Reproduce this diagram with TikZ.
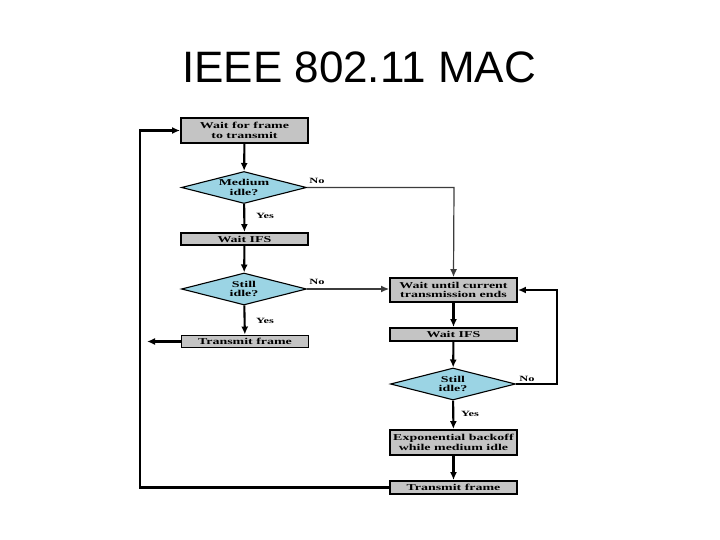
\documentclass[tikz,border=0pt]{standalone}
\usepackage{fontspec}
\setmainfont{Liberation Serif}
\newfontfamily\titlefont{Liberation Sans}
\newfontfamily\boxfont{Liberation Serif}[FakeStretch=1.55]
\usetikzlibrary{shapes.geometric,arrows.meta}
\definecolor{boxgray}{RGB}{196,196,196}
\definecolor{decblue}{RGB}{155,212,228}
\definecolor{thinline}{RGB}{60,60,60}
\begin{document}
\begin{tikzpicture}[x=1pt,y=-1pt,
  box/.style={draw=black,line width=1.9pt,fill=boxgray,minimum width=127pt,inner sep=0pt,
    font=\boxfont\bfseries\fontsize{9}{9.5}\selectfont,align=center},
  dec/.style={diamond,draw=black,line width=1.1pt,fill=decblue,minimum width=125pt,minimum height=32pt,
    inner sep=0pt,aspect=3.9,font=\boxfont\bfseries\fontsize{9}{9.5}\selectfont,align=center},
  flow/.style={line width=2.1pt,-{Latex[length=8pt,width=7pt]}},
  thin/.style={line width=1.2pt,draw=thinline,-{Latex[length=8pt,width=7pt]}},
  lbl/.style={font=\boxfont\bfseries\fontsize{8}{8}\selectfont,inner sep=0pt}]
\useasboundingbox (0,0) rectangle (720,540);
\fill[white] (0,0) rectangle (720,540);
\node[font=\titlefont\fontsize{44}{44}\selectfont,anchor=base,inner sep=0pt] (title) at (359,83) {IEEE 802.11 MAC};
% left column
\node[box,minimum height=25pt] (b1) at (244.5,130.5) {Wait for frame\\to transmit};
\node[dec] (d1) at (244,187.5) {Medium\\idle?};
\node[box,minimum height=12pt] (b2) at (244.5,239) {Wait IFS};
\node[dec] (d2) at (244,289) {Still\\idle?};
\node[box,minimum height=12pt] (b3) at (245,341.5) {Transmit frame};
% right column
\node[box,minimum height=24pt] (b4) at (453.5,290) {Wait until current\\transmission ends};
\node[box,minimum height=13pt] (b5) at (453.5,334.5) {Wait IFS};
\node[dec] (d3) at (453,384) {Still\\idle?};
\node[box,minimum height=25pt] (b6) at (453.5,442.5) {Exponential backoff\\while medium idle};
\node[box,minimum height=13pt] (b7) at (453.5,487.5) {Transmit frame};
% coordinates
\coordinate (c1) at (454,187.5);
\coordinate (c2) at (557,384);
\coordinate (c3) at (557,290);
\coordinate (c4) at (140,487.5);
\coordinate (c5) at (140,130.5);
\coordinate (out) at (147,341.5);
% connectors
\draw[flow] (b1) -- (d1);
\draw[flow] (d1) -- (b2);
\draw[flow] (b2) -- (d2);
\draw[flow] (d2) -- (b3);
\draw[flow] (b4) -- (b5);
\draw[flow] (b5) -- (d3);
\draw[flow] (d3) -- (b6);
\draw[flow] (b6) -- (b7);
\draw[thin] (d1.east) -- (c1) -- (b4.north);
\draw[thin] (d2.east) -- (d2.east -| b4.west);
\draw[flow,line width=1.7pt] (d3.east) -- (c2) -- (c3) -- (b4.east);
\draw[flow] (b3.west) -- (out);
\draw[flow] (b7.west) -- (c4) -- (c5) -- (b1.west);
% labels
\node[lbl] (l1) at (317,181) {No};
\node[lbl] (l2) at (265,216) {Yes};
\node[lbl] (l3) at (317,282) {No};
\node[lbl] (l4) at (265,321) {Yes};
\node[lbl] (l5) at (527,379) {No};
\node[lbl] (l6) at (470,414) {Yes};
\end{tikzpicture}
\end{document}
